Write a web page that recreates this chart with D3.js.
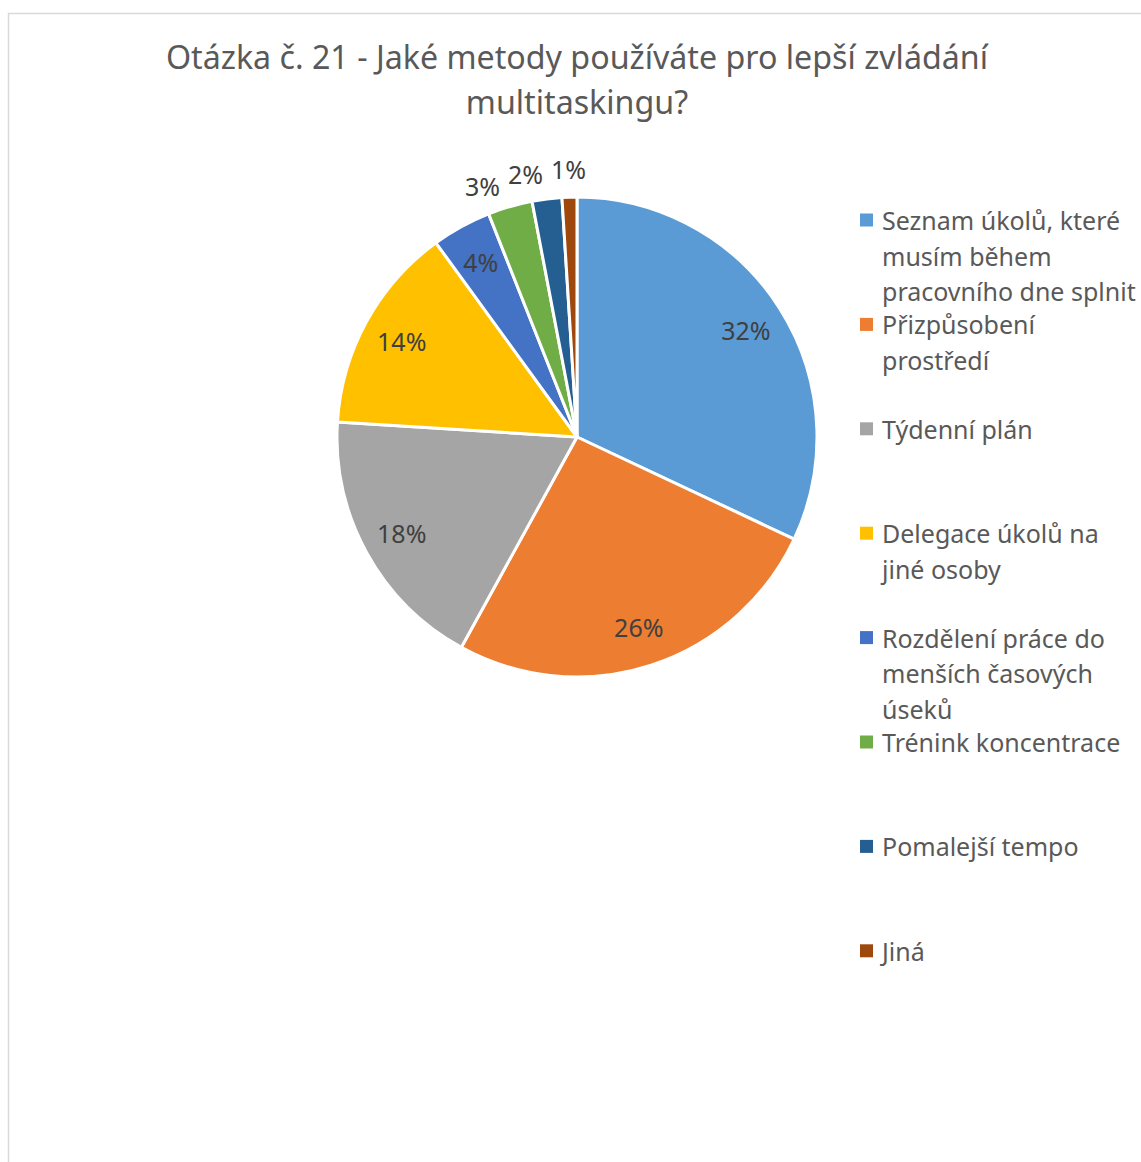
<!DOCTYPE html>
<html>
<head>
<meta charset="utf-8">
<script src="https://cdn.jsdelivr.net/npm/d3@7"></script>
<style>
  html, body { margin: 0; padding: 0; background: #fff; }
  svg { display: block; }
  text { font-family: "Noto Sans", "Open Sans", "DejaVu Sans", sans-serif; }
</style>
</head>
<body>
<svg id="chart" width="1141" height="1162"></svg>
<script>
// Survey answers (share of respondents, %)
const categories = [
  "Seznam úkolů, které musím během pracovního dne splnit",
  "Přizpůsobení prostředí",
  "Týdenní plán",
  "Delegace úkolů na jiné osoby",
  "Rozdělení práce do menších časových úseků",
  "Trénink koncentrace",
  "Pomalejší tempo",
  "Jiná"
];
const values = [32, 26, 18, 14, 4, 3, 2, 1];
const colors = ["#5B9BD5", "#ED7D31", "#A5A5A5", "#FFC000", "#4472C4", "#70AD47", "#255E91", "#9E480E"];
const titleLines = ["Otázka č. 21 - Jaké metody používáte pro lepší zvládání", "multitaskingu?"];

const W = 1141, H = 1162;
const svg = d3.select("#chart");

// chart area frame
svg.append("rect")
  .attr("x", 8.5).attr("y", 13.5)
  .attr("width", W).attr("height", H)
  .attr("fill", "#fff").attr("stroke", "#d9d9d9").attr("stroke-width", 1.5);

// title
svg.append("g").selectAll("text").data(titleLines).join("text")
  .attr("x", 577).attr("y", (d, i) => 69 + i * 45)
  .attr("text-anchor", "middle")
  .attr("fill", "#595959").attr("font-size", 32.2)
  .text(d => d);

// pie
const cx = 577, cy = 437, R = 240;
const pie = d3.pie().sort(null).value(d => d.value);
const data = categories.map((c, i) => ({ name: c, value: values[i], color: colors[i] }));
const arcs = pie(data);
const arc = d3.arc().innerRadius(0).outerRadius(R);

const g = svg.append("g").attr("transform", `translate(${cx},${cy})`);
g.selectAll("path").data(arcs).join("path")
  .attr("d", arc)
  .attr("fill", d => d.data.color)
  .attr("stroke", "#fff").attr("stroke-width", 3).attr("stroke-linejoin", "round");

// data labels: inside for large slices, outside (de-overlapped) for small ones
const labelFont = 25;
const inR = 200, outR = 268;
const inArc = d3.arc().innerRadius(inR).outerRadius(inR);
const fmt = d => d.value + "%";

const measure = svg.append("text").attr("font-size", labelFont).attr("visibility", "hidden");
const textW = s => { measure.text(s); return measure.node().getComputedTextLength(); };

const labels = arcs.map(a => {
  const inside = a.data.value >= 4;
  let x, y;
  if (inside) {
    [x, y] = inArc.centroid(a);
  } else {
    const m = (a.startAngle + a.endAngle) / 2;
    x = outR * Math.sin(m); y = -outR * Math.cos(m);
  }
  return { a, inside, x, y, w: textW(fmt(a.data)) };
});
measure.remove();

// push small-slice labels leftwards so they do not collide
const outside = labels.filter(l => !l.inside);
const pad = 8;
for (let i = outside.length - 2; i >= 0; i--) {
  const cur = outside[i], nxt = outside[i + 1];
  const limit = nxt.x - nxt.w / 2 - pad - cur.w / 2;
  if (cur.x > limit) {
    cur.x = limit;
    cur.y = -Math.sqrt(outR * outR - cur.x * cur.x);
  }
}

g.selectAll("text.lbl").data(labels).join("text")
  .attr("class", "lbl")
  .attr("x", d => d.x).attr("y", d => d.y)
  .attr("text-anchor", "middle").attr("dominant-baseline", "central")
  .attr("fill", "#404040").attr("font-size", labelFont)
  .text(d => fmt(d.a.data));

// legend
const legX = 860, legTop = 220, legStep = 104.4, lineH = 35.5, maxW = 262;
const legFont = 25;
const leg = svg.append("g");
const probe = leg.append("text").attr("font-size", legFont).attr("visibility", "hidden");
function wrap(str) {
  const words = str.split(" ");
  const lines = [];
  let line = "";
  for (const w of words) {
    const test = line ? line + " " + w : w;
    probe.text(test);
    if (probe.node().getComputedTextLength() > maxW && line) { lines.push(line); line = w; }
    else line = test;
  }
  lines.push(line);
  return lines;
}
data.forEach((d, i) => {
  const y0 = legTop + i * legStep;
  leg.append("rect")
    .attr("x", legX).attr("y", y0 - 6.5)
    .attr("width", 13).attr("height", 13)
    .attr("fill", d.color);
  const t = leg.append("text")
    .attr("x", legX + 22).attr("y", y0)
    .attr("fill", "#595959").attr("font-size", legFont)
    .attr("dominant-baseline", "central");
  wrap(d.name).forEach((ln, k) => {
    t.append("tspan").attr("x", legX + 22).attr("y", y0 + k * lineH).text(ln);
  });
});
probe.remove();
</script>
</body>
</html>
